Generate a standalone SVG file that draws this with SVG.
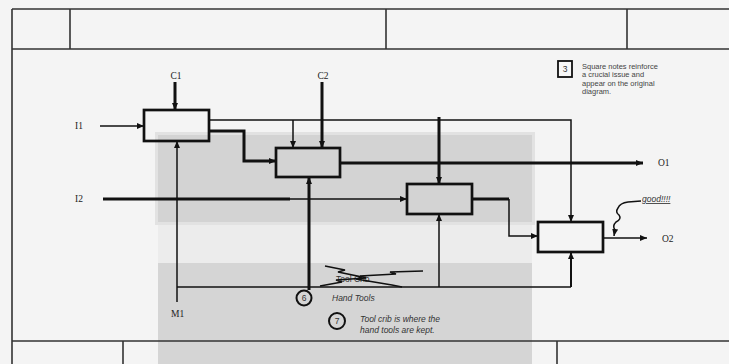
<svg xmlns="http://www.w3.org/2000/svg" width="729" height="364" viewBox="0 0 729 364">
<style>
.frame{stroke:#333;stroke-width:1.6;fill:none}
.box{stroke:#111;stroke-width:2.7;fill:none}
.thin{stroke:#111;stroke-width:1.5;fill:none}
.med{stroke:#111;stroke-width:2;fill:none}
.thick{stroke:#111;stroke-width:3;fill:none}
.lbl{font-family:"Liberation Serif",serif;font-size:9.5px;fill:#222}
.note{font-family:"Liberation Sans",Arial,sans-serif;font-size:8.5px;font-style:italic;fill:#333}
.sq{font-family:"Liberation Sans",Arial,sans-serif;font-size:7.5px;fill:#444}
.num{font-family:"Liberation Sans",Arial,sans-serif;font-size:8.5px;fill:#333}
.circ{stroke:#111;stroke-width:2;fill:none}
</style>
<defs>
<marker id="ah" markerUnits="userSpaceOnUse" markerWidth="8" markerHeight="8" refX="7" refY="4" orient="auto">
<path d="M0,1 L7,4 L0,7 z" fill="#111"/>
</marker>
</defs>
<rect x="0" y="0" width="729" height="364" fill="#f4f4f4"/>
<g id="shading">
<rect x="155" y="132" width="380" height="93" fill="#e2e2e2"/>
<rect x="158" y="135" width="374" height="87" fill="#d3d3d3"/>
<rect x="158" y="225" width="374" height="38" fill="#ececec"/>
<rect x="158" y="263" width="374" height="101" fill="#d5d5d5"/>
</g>
<g id="frame">
<line class="frame" x1="12" y1="9" x2="729" y2="9"/>
<line class="frame" x1="12" y1="49" x2="729" y2="49"/>
<line class="frame" x1="12" y1="9" x2="12" y2="364"/>
<line class="frame" x1="70" y1="9" x2="70" y2="49"/>
<line class="frame" x1="386" y1="9" x2="386" y2="49"/>
<line class="frame" x1="627" y1="9" x2="627" y2="49"/>
<line class="frame" x1="12" y1="341" x2="729" y2="341"/>
<line class="frame" x1="123" y1="341" x2="123" y2="364"/>
<line class="frame" x1="557" y1="341" x2="557" y2="364"/>
</g>
<g id="connectors">
<line class="thin" x1="100" y1="126" x2="144" y2="126" marker-end="url(#ah)"/>
<line class="thick" x1="175" y1="82" x2="175" y2="110" marker-end="url(#ah)"/>
<line class="thick" x1="322" y1="82" x2="322" y2="148" marker-end="url(#ah)"/>
<polyline class="thin" points="209,120 571,120 571,222" marker-end="url(#ah)"/>
<line class="thin" x1="293" y1="120" x2="293" y2="148" marker-end="url(#ah)"/>
<polyline class="thick" points="209,131 244,131 244,161 276,161" marker-end="url(#ah)"/>
<line class="thick" x1="439" y1="117" x2="439" y2="184" marker-end="url(#ah)"/>
<line class="thick" x1="340" y1="163" x2="643" y2="163" marker-end="url(#ah)"/>
<line class="thick" x1="103" y1="199" x2="290" y2="199"/>
<line class="thin" x1="290" y1="199" x2="407" y2="199" marker-end="url(#ah)"/>
<polyline class="thick" points="472,199 509,199"/>
<polyline class="thin" points="509,199 509,236 538,236" marker-end="url(#ah)"/>
<line class="thin" x1="603" y1="238" x2="647" y2="238" marker-end="url(#ah)"/>
<line class="thin" x1="177" y1="302" x2="177" y2="141" marker-end="url(#ah)"/>
<line class="thin" x1="177" y1="287" x2="571" y2="287"/>
<line class="thin" x1="439" y1="287" x2="439" y2="214" marker-end="url(#ah)"/>
<line class="med" x1="571" y1="287" x2="571" y2="252" marker-end="url(#ah)"/>
<line class="thick" x1="309" y1="290" x2="309" y2="177" marker-end="url(#ah)"/>
<path class="thin" stroke-width="1.8" d="M641,201 L628,202 Q620,203 618,208 Q615,212 619,215 Q622,219 616,222 Q612,226 615,230 L614,236" marker-end="url(#ah)"/>
</g>
<g id="box1"><rect class="box" x="144" y="110" width="65" height="31"/></g>
<g id="box2"><rect class="box" x="276" y="148" width="64" height="29"/></g>
<g id="box3"><rect class="box" x="407" y="184" width="65" height="30"/></g>
<g id="box4"><rect class="box" x="538" y="222" width="65" height="30"/></g>
<g id="labels">
<text class="lbl" x="176" y="79" text-anchor="middle">C1</text>
<text class="lbl" x="323" y="79" text-anchor="middle">C2</text>
<text class="lbl" x="75" y="129">I1</text>
<text class="lbl" x="75" y="202">I2</text>
<text class="lbl" x="171" y="317">M1</text>
<text class="lbl" x="658" y="166">O1</text>
<text class="lbl" x="662" y="242">O2</text>
</g>
<g id="good-note">
<text class="note" x="642" y="202" text-decoration="underline">good!!!!</text>
</g>
<g id="square-note">
<rect x="558" y="61" width="14" height="16" fill="#f8f8f8" stroke="#111" stroke-width="1.8"/>
<text class="num" x="565" y="72" text-anchor="middle">3</text>
<text class="sq" x="582" y="69">Square notes reinforce</text>
<text class="sq" x="582" y="77">a crucial issue and</text>
<text class="sq" x="582" y="86">appear on the original</text>
<text class="sq" x="582" y="94">diagram.</text>
</g>
<g id="toolcrib-crossed">
<text class="num" x="336" y="282">Tool Crib</text>
<polyline class="thin" stroke-width="1" points="325,266 345,270 338,272 362,277 356,279 392,285 402,287"/>
<polyline class="thin" stroke-width="1" points="320,286 342,282 336,280 366,278 360,276 396,274 390,272 423,271"/>
</g>
<g id="note6">
<circle class="circ" cx="304" cy="298" r="7.5"/>
<text class="num" x="304" y="301" text-anchor="middle">6</text>
<text class="note" x="332" y="301">Hand Tools</text>
</g>
<g id="note7">
<circle class="circ" cx="337" cy="321" r="8"/>
<text class="num" x="337" y="324" text-anchor="middle">7</text>
<text class="note" x="360" y="322">Tool crib is where the</text>
<text class="note" x="360" y="333">hand tools are kept.</text>
</g>
</svg>
